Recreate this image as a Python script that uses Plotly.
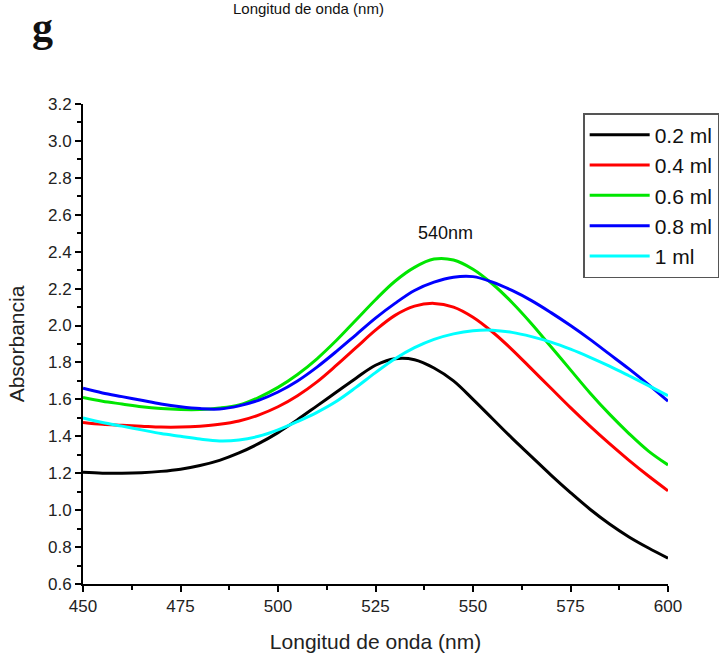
import plotly.graph_objects as go

wavelength = [450, 455, 460, 465, 470, 475, 480, 485, 490, 495, 500, 505, 510, 515, 520, 525,
              530, 535, 540, 545, 550, 555, 560, 565, 570, 575, 580, 585, 590, 595, 600]

abs_02 = [1.205, 1.20, 1.20, 1.203, 1.21, 1.222, 1.242, 1.27, 1.31, 1.36, 1.42, 1.49, 1.565, 1.64, 1.715, 1.785,
          1.82, 1.815, 1.77, 1.70, 1.60, 1.495, 1.39, 1.29, 1.19, 1.095, 1.005, 0.925, 0.855, 0.795, 0.74]
abs_04 = [1.475, 1.465, 1.46, 1.455, 1.45, 1.45, 1.455, 1.465, 1.483, 1.515, 1.56, 1.62, 1.695, 1.785, 1.88, 1.975,
          2.055, 2.105, 2.12, 2.10, 2.045, 1.965, 1.87, 1.765, 1.66, 1.555, 1.455, 1.36, 1.27, 1.185, 1.105]
abs_06 = [1.61, 1.59, 1.575, 1.56, 1.55, 1.545, 1.545, 1.553, 1.57, 1.61, 1.665, 1.735, 1.82, 1.92, 2.03, 2.14,
          2.24, 2.315, 2.36, 2.355, 2.305, 2.225, 2.125, 2.01, 1.885, 1.76, 1.635, 1.52, 1.415, 1.32, 1.245]
abs_08 = [1.66, 1.635, 1.615, 1.595, 1.575, 1.56, 1.55, 1.548, 1.565, 1.595, 1.64, 1.70, 1.775, 1.86, 1.95, 2.04,
          2.12, 2.19, 2.235, 2.262, 2.265, 2.235, 2.19, 2.135, 2.07, 2.00, 1.925, 1.845, 1.765, 1.68, 1.59]
abs_10 = [1.50, 1.475, 1.455, 1.435, 1.415, 1.40, 1.385, 1.375, 1.38, 1.40, 1.435, 1.48, 1.53, 1.59, 1.665, 1.745,
          1.82, 1.88, 1.925, 1.955, 1.972, 1.975, 1.963, 1.94, 1.91, 1.872, 1.828, 1.78, 1.728, 1.675, 1.62]

series_names = ["0.2 ml", "0.4 ml", "0.6 ml", "0.8 ml", "1 ml"]
series_values = [abs_02, abs_04, abs_06, abs_08, abs_10]
series_colors = ["#000000", "#ff0000", "#00e600", "#0000ff", "#00ffff"]

x_ticks = [450, 475, 500, 525, 550, 575, 600]
y_ticks = [0.6, 0.8, 1.0, 1.2, 1.4, 1.6, 1.8, 2.0, 2.2, 2.4, 2.6, 2.8, 3.0, 3.2]

fig = go.Figure()
for name, vals, col in zip(series_names, series_values, series_colors):
    fig.add_trace(go.Scatter(x=wavelength, y=vals, mode="lines", name=name,
                             line=dict(color=col, width=3, shape="spline", smoothing=1.0)))

FONT = "Liberation Sans, Arial, sans-serif"

fig.update_layout(
    width=719, height=658,
    margin=dict(l=83, r=51, t=104, b=74, autoexpand=False),
    plot_bgcolor="white", paper_bgcolor="white",
    font=dict(family=FONT, color="#222222", size=17),
    showlegend=True,
    legend=dict(x=0.855, y=0.981, xanchor="left", yanchor="top",
                bordercolor="#555555", borderwidth=1.5, bgcolor="white",
                font=dict(family=FONT, size=21, color="#111111"),
                tracegroupgap=0, itemwidth=60),
    xaxis=dict(range=[450, 600], tickvals=x_ticks, ticktext=[str(v) for v in x_ticks],
               showline=True, linecolor="black", linewidth=2, mirror=False,
               ticks="outside", ticklen=6, tickwidth=2, tickcolor="black",
               minor=dict(ticks="outside", ticklen=4, tickwidth=2, tickcolor="black", dtick=12.5, tick0=450, showgrid=False),
               showgrid=False, zeroline=False, automargin=False,
               tickfont=dict(family=FONT, size=17, color="#222222"),
               title=dict(text="Longitud de onda (nm)", font=dict(family=FONT, size=21, color="#222222"), standoff=19)),
    yaxis=dict(range=[0.6, 3.2], tickvals=y_ticks, ticktext=[f"{v:.1f}" for v in y_ticks],
               showline=True, linecolor="black", linewidth=2, mirror=False,
               ticks="outside", ticklen=6, tickwidth=2, tickcolor="black",
               minor=dict(ticks="outside", ticklen=4, tickwidth=2, tickcolor="black", dtick=0.1, tick0=0.6, showgrid=False),
               showgrid=False, zeroline=False, automargin=False,
               tickfont=dict(family=FONT, size=17, color="#222222"),
               title=dict(text="Absorbancia", font=dict(family=FONT, size=21, color="#222222"), standoff=18)),
    annotations=[
        dict(text="540nm", x=543, y=2.50, xref="x", yref="y", showarrow=False,
             font=dict(family=FONT, size=18, color="#111111")),
        dict(text="<b>g</b>", x=-0.070, y=1.16, xref="paper", yref="paper", showarrow=False,
             xanchor="center", yanchor="middle",
             font=dict(family="Liberation Serif, DejaVu Serif, serif", size=42, color="#111111")),
        dict(text="Longitud de onda (nm)", x=0.385, y=1.198, xref="paper", yref="paper", showarrow=False,
             xanchor="center", yanchor="middle",
             font=dict(family=FONT, size=15, color="#111111")),
    ],
)

fig.write_html("out.html")
